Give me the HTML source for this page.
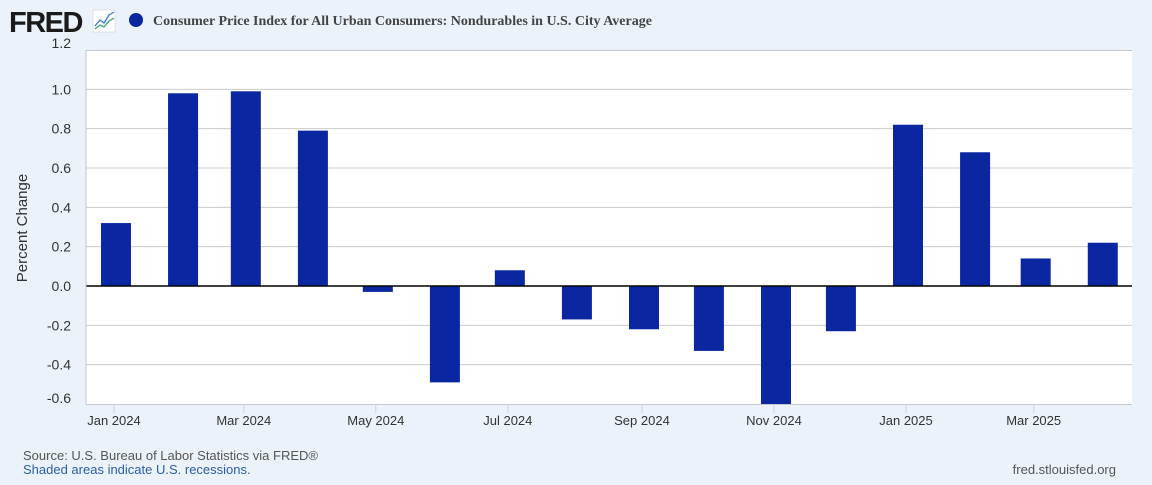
<!DOCTYPE html>
<html><head><meta charset="utf-8"><style>
body{margin:0;background:#ebf2fa;width:1152px;height:480px;overflow:hidden;font-family:"Liberation Sans",sans-serif}
</style></head><body>
<svg width="1152" height="480" xmlns="http://www.w3.org/2000/svg">
<rect width="1152" height="480" fill="#ebf2fa"/>
<g>
<text x="9" y="32" font-family="Liberation Sans" font-weight="bold" font-size="29" fill="#1a1a1a" letter-spacing="-1.5">FRED</text>
<rect x="93" y="10" width="22" height="22" fill="#fff" stroke="#ccc" stroke-width="0.5"/>
<polyline points="95,26 100,20 104,23 109,15 114,12" fill="none" stroke="#3d7ad8" stroke-width="1.3"/>
<polyline points="95,29 100,25 104,27 109,21 114,18" fill="none" stroke="#3aa07a" stroke-width="1.3"/>
</g>
<circle cx="136" cy="20" r="7" fill="#0a26a0"/>
<text x="153" y="25" font-family="Liberation Serif" font-weight="bold" font-size="14" fill="#444">Consumer Price Index for All Urban Consumers: Nondurables in U.S. City Average</text>
<rect x="86" y="50" width="1046" height="354" fill="#fff"/>
<line x1="86" x2="1132" y1="50.5" y2="50.5" stroke="#c4c8d0"/>
<g id="grid"></g><g id="bars"></g><g id="axes"></g>
<text transform="translate(27,228) rotate(-90)" text-anchor="middle" font-size="15" fill="#333">Percent Change</text>
<text x="23" y="460" font-size="13" fill="#555">Source: U.S. Bureau of Labor Statistics via FRED®</text>
<text x="23" y="474" font-size="13" fill="#2a5ea8">Shaded areas indicate U.S. recessions.</text>
<text x="1116" y="474" text-anchor="end" font-size="13" fill="#555">fred.stlouisfed.org</text>
</svg>
<script>
const months = ["2024-01","2024-02","2024-03","2024-04","2024-05","2024-06","2024-07","2024-08","2024-09","2024-10","2024-11","2024-12","2025-01","2025-02","2025-03","2025-04"];
const values = [0.32,0.98,0.99,0.79,-0.03,-0.49,0.08,-0.17,-0.22,-0.33,-0.65,-0.23,0.82,0.68,0.14,0.22];
const yTicks = [-0.6,-0.4,-0.2,0.0,0.2,0.4,0.6,0.8,1.0,1.2];
const xTickLabels = ["Jan 2024","Mar 2024","May 2024","Jul 2024","Sep 2024","Nov 2024","Jan 2025","Mar 2025"];
const xTickDates = ["2024-01","2024-03","2024-05","2024-07","2024-09","2024-11","2025-01","2025-03"];
const NS="http://www.w3.org/2000/svg";
const plotTop=50,plotBot=404,plotLeft=86,plotRight=1132,yMin=-0.6,yMax=1.2;
const yS=v=>plotBot-(v-yMin)/(yMax-yMin)*(plotBot-plotTop);
const t0=Date.UTC(2025,0,1);
const xS=m=>{const [a,b]=m.split("-").map(Number);return 906+(Date.UTC(a,b-1,1)-t0)/864e5*2.164;};
function el(tag,at,parent){const e=document.createElementNS(NS,tag);for(const k in at)e.setAttribute(k,at[k]);document.getElementById(parent).appendChild(e);return e;}
yTicks.forEach(v=>{
  if(Math.abs(v)>1e-9&&v!==yMin&&v!==yMax){const l=el("line",{x1:plotLeft,x2:plotRight,y1:yS(v),y2:yS(v),stroke:"#cccccc","stroke-width":1},"grid");
  
  }
  const t=el("text",{x:71,y:yS(v)+(v===1.2?-2:(v===yMin?-1:5)),"text-anchor":"end","font-size":14,fill:"#333","font-family":"Liberation Sans"},"axes");
  t.textContent=v.toFixed(1);
  
  
});
months.forEach((m,i)=>{
  const v=values[i],cx=xS(m)+2,y0=yS(0),yv=Math.min(plotBot,Math.max(plotTop,yS(v)));
  const r=el("rect",{x:cx-15,width:30,y:Math.min(y0,yv),height:Math.abs(yv-y0),fill:"#0a26a0"},"bars");
  
  
});
const z=el("line",{x1:plotLeft,x2:plotRight,y1:yS(0),y2:yS(0),stroke:"#000","stroke-width":1.5},"axes");


const ax=el("line",{x1:plotLeft,x2:plotRight,y1:plotBot+0.5,y2:plotBot+0.5,stroke:"#c4c8d0","stroke-width":1},"axes");


const la=el("line",{x1:plotLeft,x2:plotLeft,y1:plotTop,y2:plotBot,stroke:"#c4c8d0","stroke-width":1},"axes");


xTickDates.forEach((d,i)=>{
  const tk=el("line",{x1:xS(d),x2:xS(d),y1:plotBot,y2:plotBot+9,stroke:"#c8d4e4","stroke-width":1},"axes");
  
  
  const t=el("text",{x:xS(d),y:425,"text-anchor":"middle","font-size":13,fill:"#333","font-family":"Liberation Sans"},"axes");
  t.textContent=xTickLabels[i];
  
  
});
</script>
</body></html>
